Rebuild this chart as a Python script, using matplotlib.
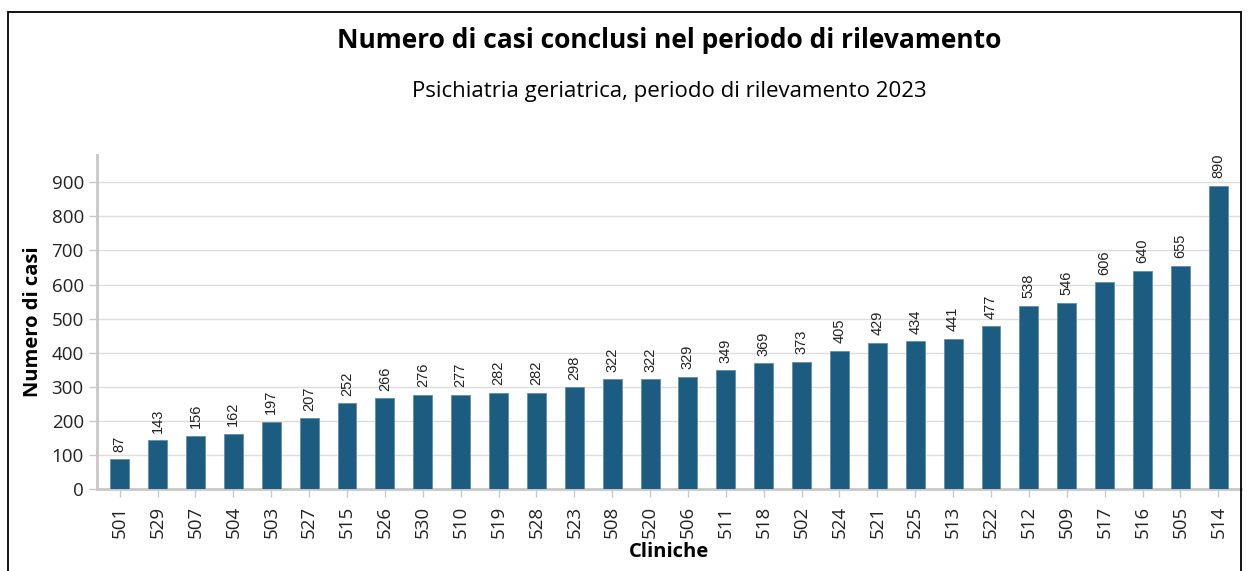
import matplotlib
matplotlib.use("Agg")
import matplotlib.pyplot as plt
from matplotlib.patches import Rectangle

# ------------------------
# Data
# ------------------------
cliniche = ["501", "529", "507", "504", "503", "527", "515", "526", "530", "510",
            "519", "528", "523", "508", "520", "506", "511", "518", "502", "524",
            "521", "525", "513", "522", "512", "509", "517", "516", "505", "514"]
casi = [87, 143, 156, 162, 197, 207, 252, 266, 276, 277,
        282, 282, 298, 322, 322, 329, 349, 369, 373, 405,
        429, 434, 441, 477, 538, 546, 606, 640, 655, 890]
y_ticks = [0, 100, 200, 300, 400, 500, 600, 700, 800, 900]

title = "Numero di casi conclusi nel periodo di rilevamento"
subtitle = "Psichiatria geriatrica, periodo di rilevamento 2023"

bar_color = "#1b5c80"
font = "Open Sans"

fig = plt.figure(figsize=(12.48, 5.71), dpi=100)
ax = fig.add_axes([97 / 1248, 1 - 489 / 571, (1241 - 97) / 1248, (489 - 155) / 571])

# outer frame (left, top, right)
fig.add_artist(Rectangle((8 / 1248, -0.05), (1241 - 8) / 1248, 1.05 - 12 / 571,
                         transform=fig.transFigure, fill=False,
                         edgecolor="black", linewidth=1.3))

x = range(len(cliniche))
ax.bar(x, casi, width=0.5, color=bar_color, edgecolor="#5f8fae", linewidth=0.6, zorder=3)

for xi, v in zip(x, casi):
    ax.text(xi, v + 22, str(v), rotation=90, ha="center", va="bottom",
            fontsize=10.5, family="Liberation Sans", color="#222222", zorder=4)

ax.set_xlim(-0.6, len(cliniche) - 0.4)
ax.set_ylim(0, 980)
ax.set_yticks(y_ticks)
ax.set_xticks(list(x))
ax.set_xticklabels(cliniche, rotation=90, family=font, fontsize=13.5)
ax.set_yticklabels([str(t) for t in y_ticks], family=font, fontsize=13.5)

ax.grid(axis="y", color="#dddddd", linewidth=1, zorder=0)
for s in ["top", "right"]:
    ax.spines[s].set_visible(False)
for s in ["left", "bottom"]:
    ax.spines[s].set_color("#c8c8c8")
    ax.spines[s].set_linewidth(2)
ax.tick_params(axis="both", color="#c8c8c8", width=1, length=6, labelcolor="#222222")
ax.tick_params(axis="x", pad=6)

ax.set_ylabel("Numero di casi", family=font, fontsize=14.5, fontweight="bold", labelpad=6)
ax.set_xlabel("Cliniche", family=font, fontsize=14.5, fontweight="bold", labelpad=3)

fig.text(669 / 1248, 1 - 40 / 571, title, ha="center", va="center",
         family=font, fontsize=19, fontweight="bold")
fig.text(669 / 1248, 1 - 91 / 571, subtitle, ha="center", va="center",
         family=font, fontsize=16)

fig.savefig("out.png", dpi=100)
